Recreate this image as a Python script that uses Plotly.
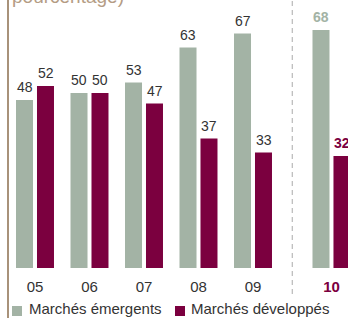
import plotly.graph_objects as go

years = ["05", "06", "07", "08", "09", "10"]
emerging = [48, 50, 53, 63, 67, 68]
developed = [52, 50, 47, 37, 33, 32]
xpos = [0, 1, 2, 3, 4, 5.44]

GREEN = "#a3b3a5"
MAROON = "#7b003f"
TAN = "#a8927a"
TXT = "#333333"
FONT = "Liberation Sans"

W, H = 348, 318
ML, MR, MT, MB = 0, 0, 0, 50
PH = H - MT - MB

def py(p):
    return (PH - (p - MT)) / PH

fig = go.Figure()
fig.add_trace(go.Bar(x=xpos, y=emerging, name="Marchés émergents", marker_color=GREEN,
                     marker_line_width=0))
fig.add_trace(go.Bar(x=xpos, y=developed, name="Marchés développés", marker_color=MAROON,
                     marker_line_width=0))

ann = []
n = len(years)
for i in range(n):
    last = i == n - 1
    for vals, sh, col in ((emerging, -10.5, GREEN), (developed, 10.5, MAROON)):
        ann.append(dict(x=xpos[i], y=vals[i], xref="x", yref="y", xshift=sh, yshift=3,
                        yanchor="bottom", showarrow=False,
                        text=(f"<b>{vals[i]}</b>" if last else str(vals[i])),
                        font=dict(family=FONT, size=14, color=(col if last else TXT))))

ticktext = [y for y in years[:-1]] + [f"<b><span style='color:{MAROON}'>{years[-1]}</span></b>"]

# title fragment (cut off at top)
ann.append(dict(x=10 / W, y=py(8.5), xref="paper", yref="paper", xanchor="left", yanchor="bottom",
                showarrow=False, text="pourcentage)",
                font=dict(family=FONT, size=19, color="#b49c84")))

# legend (manual)
ann.append(dict(x=27 / W, y=py(319), xref="paper", yref="paper", xanchor="left", yanchor="bottom",
                showarrow=False, text="Marchés émergents", font=dict(family=FONT, size=15, color=TXT)))
ann.append(dict(x=189 / W, y=py(319), xref="paper", yref="paper", xanchor="left", yanchor="bottom",
                showarrow=False, text="Marchés développés", font=dict(family=FONT, size=15, color=TXT)))

sep = (xpos[-2] + xpos[-1]) / 2
shapes = [
    dict(type="line", xref="paper", yref="paper", x0=8 / W, x1=8 / W, y0=py(H + 5), y1=1.05,
         line=dict(color=TAN, width=2)),
    dict(type="line", xref="x", yref="paper", x0=sep, x1=sep, y0=py(294), y1=1.05,
         line=dict(color="#aaaaaa", width=1, dash="5px,4px")),
    dict(type="rect", xref="paper", yref="paper", x0=12 / W, x1=22 / W, y0=py(316), y1=py(306),
         fillcolor=GREEN, line_width=0),
    dict(type="rect", xref="paper", yref="paper", x0=175 / W, x1=185 / W, y0=py(316), y1=py(306),
         fillcolor=MAROON, line_width=0),
]

unit = 54.5
x0px = 35
fig.update_layout(
    width=W, height=H, margin=dict(l=ML, r=MR, t=MT, b=MB),
    paper_bgcolor="white", plot_bgcolor="white",
    barmode="group", bargap=0.23, bargroupgap=0.19,
    showlegend=False,
    xaxis=dict(range=[-x0px / unit, (W - x0px) / unit], tickvals=xpos, ticktext=ticktext,
               showgrid=False, zeroline=False, showline=False, ticks="",
               tickfont=dict(family=FONT, size=15, color=TXT), ticklabelstandoff=8),
    yaxis=dict(range=[0, PH / 3.5], visible=False),
    annotations=ann, shapes=shapes,
)
fig.write_html("out.html", config={"displayModeBar": False},
               post_script="document.body.style.margin='0';document.body.style.overflow='hidden';")
